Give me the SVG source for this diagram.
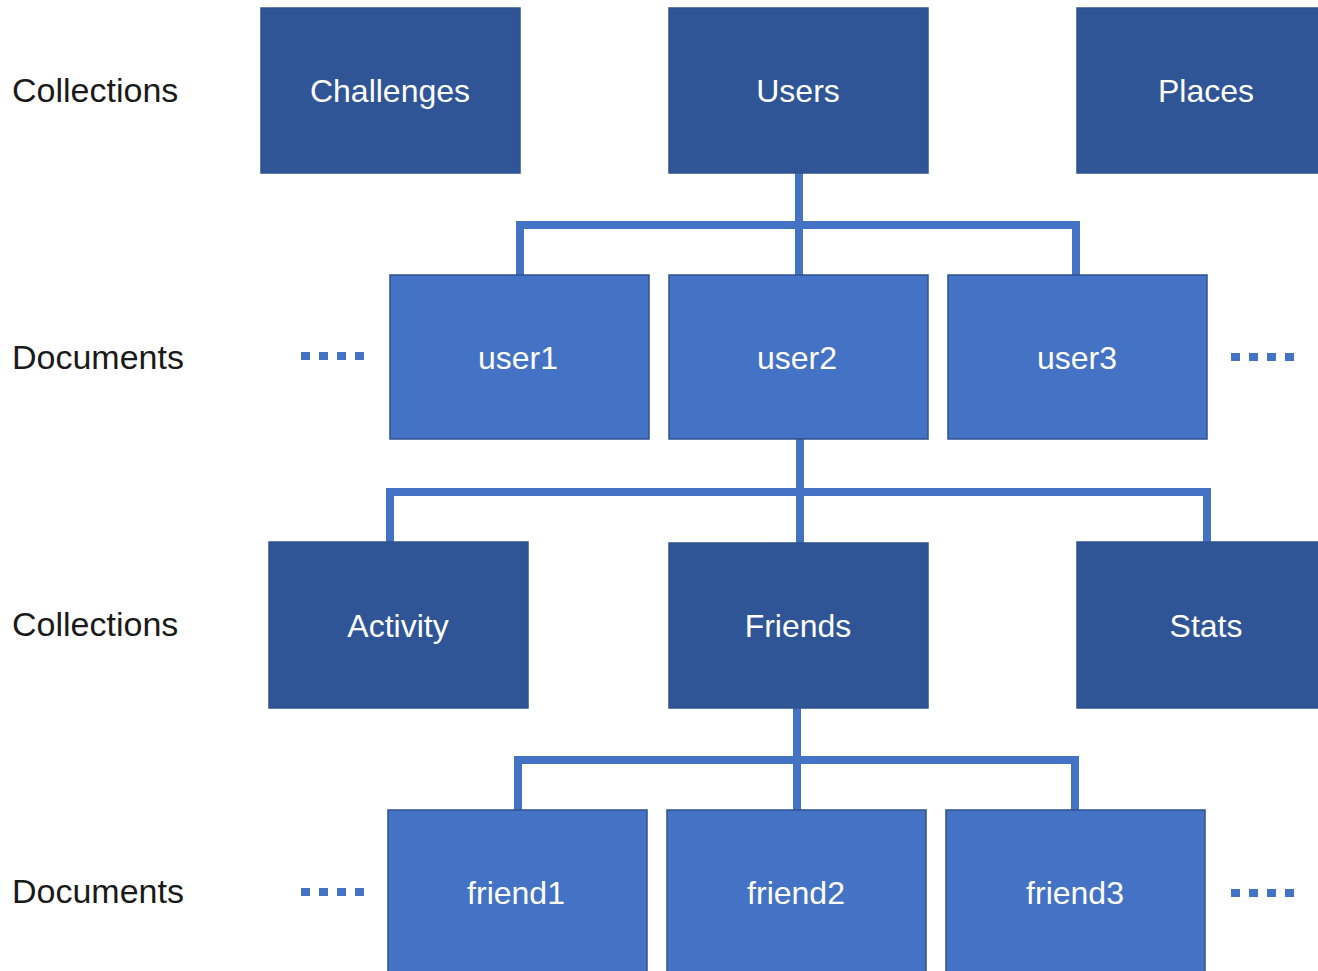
<svg xmlns="http://www.w3.org/2000/svg" width="1318" height="971" viewBox="0 0 1318 971">
<style>
.bg{fill:#ffffff}
.coll{fill:#2F5597;stroke:#2F528F;stroke-width:1.5}
.doc{fill:#4472C4;stroke:#2F528F;stroke-width:1.5}
.nt{font-family:"Liberation Sans",Arial,sans-serif;font-size:32px;fill:#ffffff;text-anchor:middle}
.lab{font-family:"Liberation Sans",Arial,sans-serif;font-size:34px;fill:#1a1a1a}
.conn{fill:none;stroke:#4472C4;stroke-width:8;stroke-linejoin:miter}
.dots{stroke:#4472C4;stroke-width:8;stroke-dasharray:9 9}
</style>
<rect class="bg" x="0" y="0" width="1318" height="971"/>
<g id="row-labels">
<text class="lab" x="12" y="102">Collections</text>
<text class="lab" x="12" y="369">Documents</text>
<text class="lab" x="12" y="636">Collections</text>
<text class="lab" x="12" y="903">Documents</text>
</g>
<g id="connectors">
<path class="conn" d="M799 173 V275 M520 275 V225 H1076 V275"/>
<path class="conn" d="M800 439 V543 M390 542 V492 H1207 V542"/>
<path class="conn" d="M797 708 V810 M518 810 V760 H1075 V810"/>
<line class="dots" x1="301" y1="356" x2="364" y2="356"/>
<line class="dots" x1="1231" y1="357" x2="1294" y2="357"/>
<line class="dots" x1="301" y1="892" x2="364" y2="892"/>
<line class="dots" x1="1231" y1="893" x2="1294" y2="893"/>
</g>
<g id="node-challenges"><rect class="coll" x="261" y="8" width="259" height="165"/><text class="nt" x="390" y="102">Challenges</text></g>
<g id="node-users"><rect class="coll" x="669" y="8" width="259" height="165"/><text class="nt" x="798" y="102">Users</text></g>
<g id="node-places"><rect class="coll" x="1077" y="8" width="250" height="165"/><text class="nt" x="1206" y="102">Places</text></g>
<g id="node-user1"><rect class="doc" x="390" y="275" width="259" height="164"/><text class="nt" x="518" y="369">user1</text></g>
<g id="node-user2"><rect class="doc" x="669" y="275" width="259" height="164"/><text class="nt" x="797" y="369">user2</text></g>
<g id="node-user3"><rect class="doc" x="948" y="275" width="259" height="164"/><text class="nt" x="1077" y="369">user3</text></g>
<g id="node-activity"><rect class="coll" x="269" y="542" width="259" height="166"/><text class="nt" x="398" y="637">Activity</text></g>
<g id="node-friends"><rect class="coll" x="669" y="543" width="259" height="165"/><text class="nt" x="798" y="637">Friends</text></g>
<g id="node-stats"><rect class="coll" x="1077" y="542" width="250" height="166"/><text class="nt" x="1206" y="637">Stats</text></g>
<g id="node-friend1"><rect class="doc" x="388" y="810" width="259" height="170"/><text class="nt" x="516" y="904">friend1</text></g>
<g id="node-friend2"><rect class="doc" x="667" y="810" width="259" height="170"/><text class="nt" x="796" y="904">friend2</text></g>
<g id="node-friend3"><rect class="doc" x="946" y="810" width="259" height="170"/><text class="nt" x="1075" y="904">friend3</text></g>
</svg>
